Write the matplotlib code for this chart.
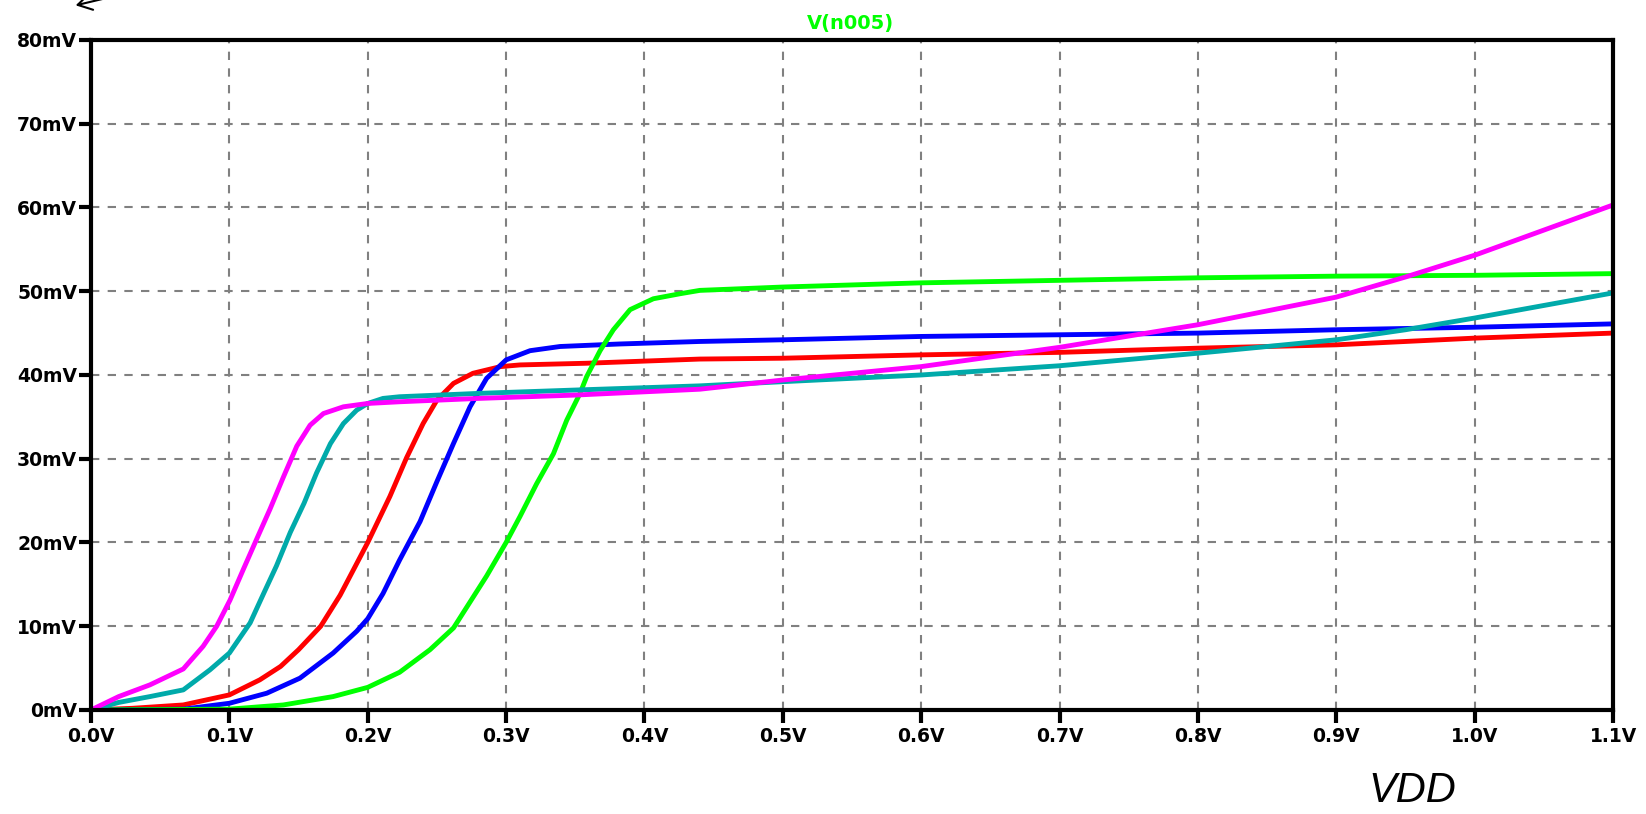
import matplotlib
matplotlib.use("Agg")
import matplotlib.pyplot as plt
from matplotlib.patches import FancyArrowPatch

# values (VDD in volts, V(n005) in mV)
mag_x = [0, 0.02, 0.0426, 0.0667, 0.081, 0.0908, 0.1004, 0.1101, 0.1197, 0.1294, 0.139,
         0.1487, 0.1583, 0.168, 0.1824, 0.2, 0.223, 0.28, 0.35, 0.44, 0.5, 0.6, 0.7,
         0.8, 0.9, 0.95, 1.0, 1.1]
mag_y = [0, 1.6, 3.0, 4.9, 7.6, 10.0, 13.1, 16.8, 20.4, 24.0, 27.8,
         31.5, 34.0, 35.4, 36.2, 36.6, 36.8, 37.2, 37.6, 38.3, 39.4, 41.0, 43.3,
         46.0, 49.3, 51.7, 54.3, 60.3]

cyan_x = [0, 0.02, 0.0426, 0.0667, 0.086, 0.1, 0.115, 0.125, 0.134, 0.144, 0.154, 0.163,
          0.173, 0.1824, 0.192, 0.2, 0.211, 0.223, 0.28, 0.35, 0.44, 0.5, 0.6, 0.7,
          0.8, 0.9, 0.95, 1.0, 1.1]
cyan_y = [0, 0.9, 1.6, 2.4, 4.8, 6.8, 10.4, 14.0, 17.2, 21.2, 24.7, 28.3,
          31.8, 34.2, 35.8, 36.6, 37.2, 37.4, 37.8, 38.2, 38.7, 39.2, 40.0, 41.1,
          42.6, 44.2, 45.4, 46.8, 49.8]

red_x = [0, 0.03, 0.0667, 0.1, 0.122, 0.137, 0.15, 0.166, 0.18, 0.2, 0.216, 0.228, 0.24,
         0.25, 0.262, 0.276, 0.296, 0.31, 0.358, 0.44, 0.5, 0.6, 0.7, 0.8, 0.9, 1.0, 1.1]
red_y = [0, 0.2, 0.6, 1.8, 3.6, 5.2, 7.2, 10.0, 13.7, 20.0, 25.5, 30.1, 34.2,
         37.0, 39.0, 40.2, 41.0, 41.2, 41.4, 41.9, 42.0, 42.4, 42.7, 43.2, 43.6, 44.4, 45.0]

blue_x = [0, 0.067, 0.1, 0.127, 0.151, 0.175, 0.192, 0.2, 0.211, 0.223, 0.2378, 0.2498,
          0.2619, 0.2739, 0.2859, 0.3, 0.3173, 0.339, 0.382, 0.44, 0.5, 0.6, 0.7, 0.8,
          0.9, 1.0, 1.1]
blue_y = [0, 0.1, 0.8, 2.0, 3.8, 6.8, 9.4, 10.9, 13.9, 17.9, 22.5, 27.2,
          31.8, 36.2, 39.6, 41.8, 42.9, 43.4, 43.7, 44.0, 44.2, 44.6, 44.8, 45.0,
          45.4, 45.7, 46.1]

green_x = [0, 0.1, 0.139, 0.175, 0.2, 0.223, 0.245, 0.262, 0.2859, 0.3, 0.31, 0.322,
           0.3342, 0.3438, 0.3534, 0.3582, 0.3679, 0.3775, 0.3896, 0.4064, 0.4257, 0.44,
           0.5, 0.6, 0.7, 0.8, 0.9, 1.0, 1.1]
green_y = [0, 0.1, 0.6, 1.6, 2.7, 4.5, 7.2, 9.8, 16.0, 20.0, 23.1, 27.0,
           30.6, 34.6, 37.8, 39.8, 42.9, 45.4, 47.8, 49.1, 49.7, 50.1,
           50.5, 51.0, 51.3, 51.6, 51.8, 51.9, 52.1]

x_ticks = [i / 10 for i in range(12)]
x_labels = ['%.1fV' % v for v in x_ticks]
y_ticks = list(range(0, 81, 10))
y_labels = ['%dmV' % v for v in y_ticks]

fig = plt.figure(figsize=(16.46, 8.14), dpi=100)
ax = fig.add_axes([0.0553, 0.1278, 0.9247, 0.8231])

ax.plot(red_x, red_y, color='#ff0000', lw=3.5)
ax.plot(blue_x, blue_y, color='#0000ff', lw=3.5)
ax.plot(green_x, green_y, color='#00ff00', lw=3.5)
ax.plot(cyan_x, cyan_y, color='#00aaaa', lw=3.5)
ax.plot(mag_x, mag_y, color='#ff00ff', lw=3.5)

ax.set_xlim(0, 1.1)
ax.set_ylim(0, 80)
ax.set_xticks(x_ticks)
ax.set_xticklabels(x_labels, fontsize=13.5, fontweight='bold')
ax.set_yticks(y_ticks)
ax.set_yticklabels(y_labels, fontsize=13.5, fontweight='bold')
ax.tick_params(axis='both', direction='out', length=9, width=3, color='black')
ax.tick_params(axis='x', pad=3)
ax.tick_params(axis='y', pad=1)
ax.grid(True, color='#808080', linestyle=(0, (4, 4)), linewidth=1.5)
for s in ax.spines.values():
    s.set_linewidth(3)
    s.set_color('black')

fig.text(0.5164, 0.9717, 'V(n005)', color='#00ff00', fontsize=14,
         fontweight='bold', ha='center', va='center')
fig.text(0.8578, 0.028, 'VDD', fontsize=30, style='italic',
         family='Liberation Sans', ha='center', va='center')

# arrow cut off at the top left corner
arr = FancyArrowPatch((115 / 1646, 1 + 4 / 814), (73 / 1646, 1 - 6 / 814),
                      transform=fig.transFigure, arrowstyle='->,head_length=10,head_width=6',
                      color='black', lw=1.5)
fig.add_artist(arr)

fig.savefig('out.png', dpi=100)
